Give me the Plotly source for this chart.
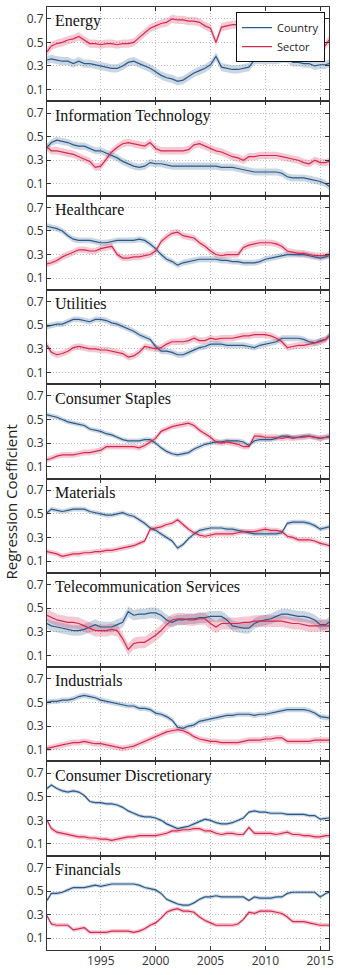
import numpy as np
import plotly.graph_objects as go
from plotly.subplots import make_subplots

years = [1990.1] + [round(v, 1) for v in np.arange(1990.5, 2015.51, 0.5)] + [2015.8]

sectors = ["Energy", "Information Technology", "Healthcare", "Utilities",
           "Consumer Staples", "Materials", "Telecommunication Services",
           "Industrials", "Consumer Discretionary", "Financials"]

energy_country = [0.35, 0.36, 0.35, 0.34, 0.34, 0.32, 0.34, 0.32, 0.32, 0.31,
                  0.30, 0.29, 0.28, 0.28, 0.30, 0.33, 0.34, 0.32, 0.30, 0.28,
                  0.25, 0.22, 0.20, 0.19, 0.17, 0.18, 0.21, 0.24, 0.26, 0.28,
                  0.31, 0.38, 0.29, 0.28, 0.27, 0.27, 0.28, 0.29, 0.35, 0.35,
                  0.35, 0.35, 0.35, 0.36, 0.36, 0.33, 0.33, 0.32, 0.32, 0.30,
                  0.31, 0.31, 0.32]
energy_sector = [0.42, 0.47, 0.49, 0.50, 0.52, 0.53, 0.55, 0.52, 0.49, 0.49,
                 0.48, 0.49, 0.49, 0.48, 0.49, 0.49, 0.50, 0.54, 0.58, 0.62,
                 0.64, 0.66, 0.67, 0.70, 0.69, 0.69, 0.68, 0.68, 0.67, 0.64,
                 0.62, 0.50, 0.63, 0.64, 0.65, 0.65, 0.66, 0.65, 0.64, 0.62,
                 0.60, 0.55, 0.50, 0.46, 0.43, 0.42, 0.41, 0.41, 0.40, 0.39,
                 0.41, 0.48, 0.52]

it_country = [0.41, 0.45, 0.47, 0.46, 0.45, 0.43, 0.42, 0.42, 0.40, 0.38,
              0.38, 0.36, 0.34, 0.32, 0.29, 0.27, 0.25, 0.24, 0.25, 0.28,
              0.27, 0.27, 0.26, 0.25, 0.25, 0.25, 0.25, 0.25, 0.25, 0.25,
              0.25, 0.25, 0.24, 0.24, 0.24, 0.23, 0.22, 0.21, 0.20, 0.20,
              0.20, 0.20, 0.20, 0.19, 0.16, 0.15, 0.15, 0.15, 0.14, 0.13,
              0.12, 0.10, 0.08]
it_sector = [0.41, 0.38, 0.38, 0.37, 0.36, 0.35, 0.33, 0.31, 0.29, 0.24,
             0.25, 0.31, 0.37, 0.41, 0.44, 0.45, 0.44, 0.43, 0.42, 0.45,
             0.40, 0.38, 0.38, 0.38, 0.38, 0.38, 0.39, 0.43, 0.44, 0.42,
             0.40, 0.38, 0.37, 0.35, 0.33, 0.32, 0.30, 0.33, 0.33, 0.34,
             0.34, 0.34, 0.34, 0.33, 0.32, 0.31, 0.30, 0.28, 0.27, 0.30,
             0.28, 0.28, 0.29]

health_country = [0.54, 0.53, 0.52, 0.50, 0.46, 0.43, 0.42, 0.42, 0.42, 0.41,
                  0.40, 0.40, 0.41, 0.42, 0.42, 0.42, 0.42, 0.43, 0.42, 0.39,
                  0.35, 0.30, 0.26, 0.24, 0.21, 0.23, 0.24, 0.25, 0.26, 0.26,
                  0.26, 0.26, 0.25, 0.25, 0.24, 0.24, 0.23, 0.23, 0.23, 0.24,
                  0.26, 0.27, 0.28, 0.29, 0.30, 0.30, 0.30, 0.30, 0.29, 0.28,
                  0.27, 0.28, 0.29]
health_sector = [0.22, 0.23, 0.25, 0.28, 0.30, 0.32, 0.34, 0.34, 0.33, 0.33,
                 0.35, 0.36, 0.37, 0.30, 0.27, 0.27, 0.28, 0.28, 0.29, 0.30,
                 0.33, 0.41, 0.45, 0.48, 0.49, 0.46, 0.45, 0.44, 0.40, 0.37,
                 0.33, 0.30, 0.29, 0.30, 0.30, 0.30, 0.36, 0.38, 0.39, 0.40,
                 0.40, 0.40, 0.39, 0.37, 0.33, 0.32, 0.31, 0.31, 0.30, 0.29,
                 0.29, 0.29, 0.30]

util_country = [0.49, 0.50, 0.51, 0.51, 0.53, 0.55, 0.55, 0.54, 0.53, 0.55,
                0.55, 0.54, 0.52, 0.51, 0.49, 0.47, 0.45, 0.42, 0.40, 0.38,
                0.32, 0.28, 0.28, 0.27, 0.25, 0.25, 0.27, 0.29, 0.31, 0.32,
                0.34, 0.34, 0.34, 0.33, 0.33, 0.33, 0.33, 0.32, 0.31, 0.33,
                0.34, 0.35, 0.36, 0.39, 0.39, 0.39, 0.39, 0.38, 0.36, 0.35,
                0.37, 0.38, 0.41]
util_sector = [0.33, 0.27, 0.25, 0.26, 0.28, 0.31, 0.32, 0.31, 0.30, 0.30,
               0.29, 0.29, 0.28, 0.27, 0.26, 0.23, 0.24, 0.27, 0.32, 0.31,
               0.30, 0.31, 0.34, 0.36, 0.36, 0.36, 0.37, 0.39, 0.37, 0.37,
               0.39, 0.38, 0.39, 0.39, 0.39, 0.40, 0.41, 0.41, 0.42, 0.42,
               0.42, 0.41, 0.39, 0.36, 0.31, 0.32, 0.33, 0.33, 0.34, 0.35,
               0.36, 0.38, 0.41]

staples_country = [0.54, 0.53, 0.52, 0.50, 0.48, 0.47, 0.46, 0.45, 0.42, 0.41,
                   0.40, 0.38, 0.37, 0.35, 0.33, 0.32, 0.32, 0.32, 0.33, 0.33,
                   0.30, 0.26, 0.23, 0.21, 0.20, 0.21, 0.22, 0.25, 0.27, 0.29,
                   0.30, 0.31, 0.31, 0.32, 0.32, 0.32, 0.31, 0.28, 0.32, 0.33,
                   0.33, 0.33, 0.34, 0.36, 0.36, 0.35, 0.35, 0.36, 0.36, 0.35,
                   0.34, 0.35, 0.35]
staples_sector = [0.16, 0.17, 0.19, 0.20, 0.20, 0.20, 0.21, 0.22, 0.22, 0.23,
                  0.24, 0.27, 0.27, 0.27, 0.27, 0.27, 0.27, 0.26, 0.28, 0.31,
                  0.34, 0.40, 0.42, 0.44, 0.45, 0.46, 0.47, 0.45, 0.41, 0.38,
                  0.35, 0.31, 0.30, 0.31, 0.30, 0.29, 0.27, 0.27, 0.36, 0.36,
                  0.35, 0.35, 0.35, 0.34, 0.35, 0.34, 0.35, 0.35, 0.36, 0.35,
                  0.34, 0.35, 0.36]

materials_country = [0.51, 0.54, 0.53, 0.52, 0.53, 0.54, 0.54, 0.54, 0.52, 0.51,
                     0.50, 0.49, 0.49, 0.50, 0.51, 0.49, 0.48, 0.45, 0.42, 0.38,
                     0.36, 0.33, 0.30, 0.27, 0.21, 0.24, 0.29, 0.33, 0.36, 0.37,
                     0.38, 0.38, 0.38, 0.37, 0.37, 0.36, 0.35, 0.34, 0.33, 0.33,
                     0.33, 0.33, 0.33, 0.34, 0.42, 0.43, 0.43, 0.43, 0.42, 0.40,
                     0.37, 0.38, 0.39]
materials_sector = [0.18, 0.17, 0.16, 0.14, 0.15, 0.16, 0.16, 0.17, 0.17, 0.18,
                    0.18, 0.19, 0.19, 0.20, 0.21, 0.22, 0.23, 0.25, 0.27, 0.37,
                    0.38, 0.39, 0.41, 0.42, 0.45, 0.41, 0.37, 0.34, 0.32, 0.31,
                    0.32, 0.33, 0.33, 0.33, 0.33, 0.34, 0.35, 0.35, 0.35, 0.36,
                    0.37, 0.36, 0.36, 0.35, 0.31, 0.30, 0.28, 0.28, 0.28, 0.27,
                    0.25, 0.24, 0.23]

telecom_country = [0.37, 0.35, 0.34, 0.33, 0.32, 0.31, 0.31, 0.32, 0.34, 0.36,
                   0.34, 0.34, 0.34, 0.36, 0.38, 0.47, 0.44, 0.45, 0.45, 0.46,
                   0.46, 0.44, 0.40, 0.38, 0.40, 0.40, 0.41, 0.41, 0.42, 0.42,
                   0.43, 0.43, 0.43, 0.40, 0.35, 0.34, 0.33, 0.33, 0.37, 0.39,
                   0.40, 0.41, 0.43, 0.45, 0.45, 0.44, 0.43, 0.43, 0.42, 0.40,
                   0.36, 0.36, 0.38]
telecom_sector = [0.44, 0.42, 0.40, 0.39, 0.38, 0.38, 0.37, 0.35, 0.33, 0.31,
                  0.31, 0.31, 0.32, 0.31, 0.24, 0.15, 0.20, 0.21, 0.21, 0.24,
                  0.27, 0.31, 0.36, 0.40, 0.41, 0.41, 0.40, 0.40, 0.41, 0.41,
                  0.37, 0.34, 0.37, 0.37, 0.37, 0.37, 0.38, 0.38, 0.39, 0.39,
                  0.39, 0.39, 0.39, 0.39, 0.38, 0.37, 0.37, 0.36, 0.35, 0.35,
                  0.35, 0.35, 0.35]

indust_country = [0.50, 0.51, 0.51, 0.52, 0.52, 0.53, 0.55, 0.56, 0.55, 0.54,
                  0.52, 0.51, 0.50, 0.49, 0.48, 0.47, 0.47, 0.45, 0.45, 0.44,
                  0.41, 0.40, 0.38, 0.35, 0.29, 0.28, 0.30, 0.31, 0.34, 0.35,
                  0.36, 0.37, 0.38, 0.39, 0.39, 0.40, 0.40, 0.40, 0.39, 0.40,
                  0.40, 0.41, 0.42, 0.43, 0.44, 0.44, 0.44, 0.44, 0.43, 0.41,
                  0.38, 0.37, 0.37]
indust_sector = [0.11, 0.12, 0.13, 0.14, 0.15, 0.16, 0.16, 0.17, 0.16, 0.15,
                 0.15, 0.14, 0.13, 0.12, 0.11, 0.12, 0.13, 0.15, 0.17, 0.19,
                 0.21, 0.23, 0.25, 0.26, 0.27, 0.26, 0.24, 0.21, 0.19, 0.18,
                 0.17, 0.17, 0.16, 0.16, 0.16, 0.16, 0.17, 0.18, 0.18, 0.18,
                 0.19, 0.19, 0.20, 0.20, 0.17, 0.17, 0.17, 0.17, 0.17, 0.18,
                 0.18, 0.18, 0.18]

discr_country = [0.57, 0.60, 0.57, 0.55, 0.54, 0.55, 0.54, 0.51, 0.46, 0.45,
                 0.45, 0.44, 0.44, 0.43, 0.41, 0.38, 0.36, 0.34, 0.33, 0.33,
                 0.32, 0.30, 0.27, 0.25, 0.23, 0.24, 0.25, 0.27, 0.29, 0.31,
                 0.30, 0.28, 0.27, 0.27, 0.28, 0.30, 0.32, 0.37, 0.38, 0.37,
                 0.37, 0.36, 0.36, 0.36, 0.35, 0.35, 0.35, 0.35, 0.34, 0.34,
                 0.31, 0.32, 0.32]
discr_sector = [0.30, 0.23, 0.20, 0.19, 0.18, 0.17, 0.16, 0.16, 0.15, 0.15,
                0.14, 0.14, 0.13, 0.14, 0.15, 0.16, 0.16, 0.17, 0.17, 0.17,
                0.17, 0.18, 0.19, 0.21, 0.21, 0.22, 0.22, 0.23, 0.23, 0.21,
                0.21, 0.19, 0.18, 0.19, 0.19, 0.18, 0.18, 0.24, 0.19, 0.19,
                0.19, 0.19, 0.18, 0.19, 0.20, 0.18, 0.18, 0.17, 0.17, 0.16,
                0.16, 0.17, 0.17]

fin_country = [0.42, 0.48, 0.48, 0.49, 0.51, 0.53, 0.53, 0.53, 0.54, 0.55,
               0.54, 0.55, 0.56, 0.56, 0.56, 0.56, 0.56, 0.55, 0.53, 0.52,
               0.51, 0.48, 0.43, 0.41, 0.39, 0.38, 0.38, 0.40, 0.43, 0.45,
               0.45, 0.46, 0.45, 0.45, 0.45, 0.45, 0.45, 0.42, 0.45, 0.44,
               0.44, 0.44, 0.45, 0.45, 0.48, 0.49, 0.49, 0.49, 0.49, 0.49,
               0.45, 0.48, 0.49]
fin_sector = [0.29, 0.22, 0.21, 0.21, 0.21, 0.17, 0.18, 0.19, 0.15, 0.15,
              0.15, 0.15, 0.16, 0.16, 0.16, 0.16, 0.15, 0.16, 0.18, 0.21,
              0.23, 0.27, 0.32, 0.34, 0.35, 0.33, 0.33, 0.32, 0.28, 0.25,
              0.23, 0.21, 0.21, 0.21, 0.21, 0.22, 0.26, 0.32, 0.31, 0.33,
              0.33, 0.33, 0.32, 0.31, 0.28, 0.24, 0.24, 0.24, 0.23, 0.22,
              0.21, 0.21, 0.21]

# half-width of the confidence band, one value per panel
country_band = [0.035, 0.030, 0.025, 0.025, 0.020, 0.020, 0.045, 0.022, 0.015, 0.015]
sector_band = [0.035, 0.032, 0.028, 0.028, 0.025, 0.022, 0.050, 0.025, 0.020, 0.018]

country_series = [energy_country, it_country, health_country, util_country, staples_country,
                  materials_country, telecom_country, indust_country, discr_country, fin_country]
sector_series = [energy_sector, it_sector, health_sector, util_sector, staples_sector,
                 materials_sector, telecom_sector, indust_sector, discr_sector, fin_sector]

BLUE = "#2b5a8a"
RED = "#d6294f"
BLUE_FILL = "rgba(43,90,138,0.25)"
RED_FILL = "rgba(214,41,79,0.25)"
SANS = "Open Sans"

n = len(sectors)
fig = make_subplots(rows=n, cols=1, shared_xaxes=True, vertical_spacing=0)

for i in range(n):
    r = i + 1
    for vals, band, fill in ((country_series[i], country_band[i], BLUE_FILL),
                             (sector_series[i], sector_band[i], RED_FILL)):
        v = np.array(vals)
        up = v + band
        lo = v - band
        fig.add_trace(go.Scatter(x=years + years[::-1], y=list(up) + list(lo[::-1]),
                                 fill="toself", fillcolor=fill, line=dict(width=0),
                                 mode="lines", hoverinfo="skip", showlegend=False),
                      row=r, col=1)
    fig.add_trace(go.Scatter(x=years, y=country_series[i], mode="lines",
                             line=dict(color=BLUE, width=1.2), name="Country",
                             showlegend=(i == 0)), row=r, col=1)
    fig.add_trace(go.Scatter(x=years, y=sector_series[i], mode="lines",
                             line=dict(color=RED, width=1.2), name="Sector",
                             showlegend=(i == 0)), row=r, col=1)
    fig.add_annotation(text=sectors[i], xref="x domain", yref="y domain",
                       x=0.02, y=0.965, xanchor="left", yanchor="top", showarrow=False,
                       font=dict(family="Liberation Serif", size=16, color="#111"),
                       row=r, col=1)

fig.update_yaxes(range=[0, 0.8], tickvals=[0.1, 0.3, 0.5, 0.7],
                 ticktext=["0.1", "0.3", "0.5", "0.7"],
                 ticks="inside", ticklen=4, tickcolor="#333",
                 showline=True, linecolor="#333", linewidth=1, mirror="ticks",
                 showgrid=True, gridcolor="#bdbdbd", griddash="1px,2px", gridwidth=1,
                 zeroline=False, tickfont=dict(family=SANS, size=12, color="#333"))
fig.update_xaxes(range=[1990.1, 2015.8], tickvals=[1995, 2000, 2005, 2010, 2015],
                 ticks="inside", ticklen=4, tickcolor="#333",
                 showline=True, linecolor="#333", linewidth=1, mirror="ticks",
                 showgrid=True, gridcolor="#bdbdbd", griddash="1px,2px", gridwidth=1,
                 zeroline=False, tickfont=dict(family=SANS, size=12, color="#333"))

fig.add_annotation(text="Regression Coefficient", xref="paper", yref="paper",
                   x=-0.126, y=0.475, textangle=-90, showarrow=False,
                   xanchor="center", yanchor="middle",
                   font=dict(family=SANS, size=15, color="#222"))

fig.update_layout(
    width=340, height=975,
    margin=dict(l=47, r=7, t=6, b=21),
    plot_bgcolor="white", paper_bgcolor="white",
    legend=dict(x=0.986, y=0.9945, xanchor="right", yanchor="top",
                bgcolor="white", bordercolor="#111", borderwidth=1,
                font=dict(family=SANS, size=11, color="#222"),
                tracegroupgap=0, itemwidth=30),
)

fig.write_html("out.html")
